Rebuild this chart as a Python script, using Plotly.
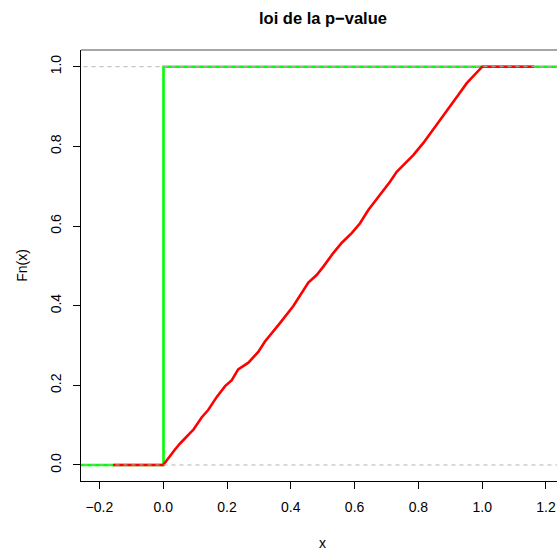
import plotly.graph_objects as go

# red ecdf (uniform p-values), knots
red_x = [-0.157, 0.0, 0.037, 0.053, 0.084, 0.094, 0.121, 0.141, 0.168, 0.194, 0.215, 0.235,
         0.267, 0.298, 0.319, 0.350, 0.366, 0.408, 0.439, 0.455, 0.481, 0.502, 0.533, 0.560,
         0.591, 0.617, 0.643, 0.667, 0.690, 0.711, 0.732, 0.753, 0.784, 0.815, 0.842, 0.868,
         0.899, 0.925, 0.951, 0.977, 1.0, 1.163]
red_y = [0.0, 0.0, 0.039, 0.054, 0.080, 0.088, 0.120, 0.138, 0.171, 0.198, 0.213, 0.240,
         0.257, 0.284, 0.310, 0.339, 0.356, 0.399, 0.439, 0.458, 0.477, 0.498, 0.532, 0.558,
         0.582, 0.607, 0.640, 0.665, 0.687, 0.711, 0.736, 0.753, 0.778, 0.808, 0.837, 0.866,
         0.900, 0.929, 0.958, 0.979, 1.0, 1.0]

# green ecdf (p-values concentrated at 0)
green_x = [-0.26, 0.001, 0.001, 1.25]
green_y = [0.0, 0.0, 1.0, 1.0]

ref_levels = [0.0, 1.0]

x_ticks = [-0.2, 0.0, 0.2, 0.4, 0.6, 0.8, 1.0, 1.2]
y_ticks = [0.0, 0.2, 0.4, 0.6, 0.8, 1.0]

FONT = "Liberation Sans, Arial, sans-serif"

fig = go.Figure()
fig.add_trace(go.Scatter(x=green_x, y=green_y, mode="lines",
                         line=dict(color="#00ff00", width=2.6), hoverinfo="skip"))
fig.add_trace(go.Scatter(x=red_x, y=red_y, mode="lines",
                         line=dict(color="#ff0000", width=2.6), hoverinfo="skip"))
for lv in ref_levels:
    fig.add_trace(go.Scatter(x=[-0.3, 1.3], y=[lv, lv], mode="lines",
                             line=dict(color="#b3b3b3", width=1, dash="4px,4px"),
                             hoverinfo="skip"))

fig.update_layout(
    width=557, height=550,
    margin=dict(l=81, r=0, t=50, b=69),
    paper_bgcolor="white", plot_bgcolor="white",
    showlegend=False,
    font=dict(family=FONT, size=14, color="black"),
    xaxis=dict(range=[-0.2577, 1.2345], tickvals=x_ticks,
               ticktext=[f"{v:.1f}".replace("-", "\u2212") for v in x_ticks],
               showgrid=False, zeroline=False, showline=True, linecolor="black",
               linewidth=1, ticks="outside", ticklen=7, tickcolor="black",
               ticklabelstandoff=6),
    yaxis=dict(range=[-0.0402, 1.0419], tickvals=y_ticks,
               ticktext=[f"{v:.1f}" for v in y_ticks],
               showgrid=False, zeroline=False, showline=True, linecolor="black",
               linewidth=1, ticks="outside", ticklen=7, tickcolor="black",
               tickangle=-90, ticklabelstandoff=6),
    shapes=[dict(type="line", xref="paper", yref="paper", x0=0, x1=1, y0=1, y1=1,
                 line=dict(color="#888888", width=1.3))],
    annotations=[
        dict(text="<b>loi de la p\u2212value</b>", xref="x", yref="paper", x=0.5,
             y=1, yshift=32, showarrow=False, font=dict(size=16.5), yanchor="middle"),
        dict(text="x", xref="x", yref="paper", x=0.5, y=0, yshift=-62,
             showarrow=False, font=dict(size=14), yanchor="middle"),
        dict(text="Fn(x)", xref="paper", yref="y", x=0, y=0.5, xshift=-59,
             showarrow=False, font=dict(size=14), textangle=-90, xanchor="center"),
    ],
)
fig.write_html("out.html")
